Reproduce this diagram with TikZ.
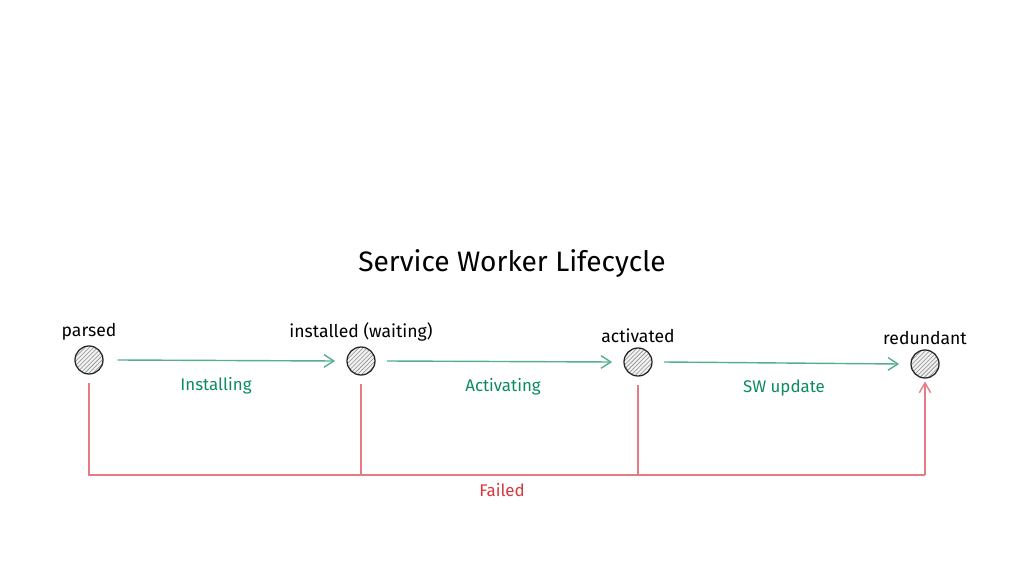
\documentclass[tikz,border=0pt]{standalone}
\usepackage{fontspec}
\setmainfont{Fira Sans}
\usetikzlibrary{arrows,arrows.meta,positioning,patterns}
\definecolor{okgreen}{HTML}{0C8A63}
\definecolor{failred}{HTML}{D9363E}

\begin{document}
\begin{tikzpicture}[x=0.025cm,y=-0.025cm,
	every label/.style={font=\fontsize{12.5}{15}\selectfont},
	state/.style={circle,draw=black!85,line width=0.9pt,minimum size=0.7cm,inner sep=0pt,
		pattern=north east lines,pattern color=black!45,preaction={fill=gray!10},
		label distance=5pt},
	goarrow/.style={-{Straight Barb[length=7pt,width=9pt]},draw=okgreen!70,line width=1pt},
	golabel/.style={text=okgreen,font=\fontsize{12}{14}\selectfont},
	failline/.style={draw=failred!65,line width=1pt}]
	\useasboundingbox (0,0) rectangle (1024,576);
	\node at (512,264) (title) {\fontsize{20}{24}\selectfont Service Worker Lifecycle};
	\node[state,label=above:{parsed}] at (89,360) (parsed) {};
	\node[state,label=above:{installed (waiting)}] at (361,361) (installed) {};
	\node[state,label=above:{activated}] at (638,362) (activated) {};
	\node[state,label=above:{redundant}] at (925,364) (redundant) {};
	\coordinate (bend) at (925,475);
	\draw[goarrow] ([xshift=10pt]parsed.east)--([xshift=-8pt]installed.west);
	\draw[goarrow] ([xshift=8pt]installed.east)--([xshift=-8pt]activated.west);
	\draw[goarrow] ([xshift=8pt]activated.east)--([xshift=-8pt]redundant.west);
	\node[golabel] at (216,386) (installing) {Installing};
	\node[golabel] at (503,387) (activating) {Activating};
	\node[golabel] at (784,388) (update) {SW update};
	\draw[failline] ([yshift=-6pt]parsed.south) |- (bend);
	\draw[failline] ([yshift=-6pt]installed.south)--(installed.south |- bend);
	\draw[failline] ([yshift=-6pt]activated.south)--(activated.south |- bend);
	\draw[failline,-{Straight Barb[length=7pt,width=8pt]}] (bend)--([yshift=-2pt]redundant.south);
	\node[text=failred,font=\fontsize{12}{14}\selectfont] at (502,490) (failed) {Failed};
\end{tikzpicture}
\end{document}
